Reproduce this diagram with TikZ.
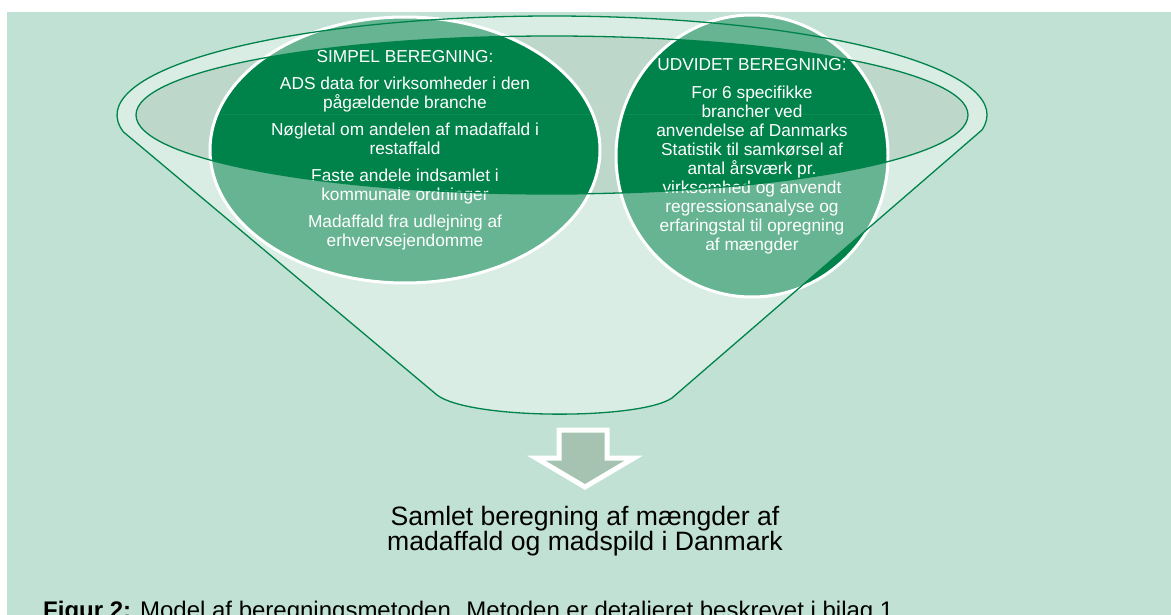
\documentclass[tikz,border=0pt]{standalone}
\usepackage{fontspec}
\setmainfont{Liberation Sans}
\usetikzlibrary{calc}
\definecolor{baggrund}{RGB}{192,225,211}
\definecolor{mund}{RGB}{189,216,203}
\definecolor{moerkgroen}{RGB}{0,131,74}
\definecolor{pilgraa}{RGB}{166,195,177}
\tikzstyle{kant} = [draw=moerkgroen, line width=1.3pt]
\tikzstyle{felt} = [fill=moerkgroen, draw=white, line width=3pt]
\tikzstyle{felttekst} = [text=white, align=center, inner sep=0pt,
font=\fontsize{17.3}{19}\selectfont]
\tikzstyle{tragtlys} = [fill=white, fill opacity=0.4, even odd rule]
\tikzstyle{blokpil} = [fill=pilgraa, draw=white, line width=5pt, miter limit=10]

\begin{document}
\begin{tikzpicture}[x=1pt, y=-1pt]
\useasboundingbox (0,0) rectangle (1171,615);
\fill[baggrund] (7,12) rectangle (1171,615);

% tragtens aabning
\coordinate (midte) at (552,115);
\fill[mund] (midte) ellipse [x radius=416, y radius=79];

% simpel beregning
\draw[felt] (405,150) ellipse [x radius=195, y radius=133];
\node[felttekst] (simpel) at (405,150) {SIMPEL BEREGNING:\\[8pt]
  ADS data for virksomheder i den\\ pågældende branche\\[8pt]
  Nøgletal om andelen af madaffald i\\ restaffald\\[8pt]
  Faste andele indsamlet i\\ kommunale ordninger\\[8pt]
  Madaffald fra udlejning af\\ erhvervsejendomme};

% udvidet beregning, til hoejre
\draw[felt] (752,156) ellipse [x radius=136, y radius=141];
\node[felttekst] (udvidet) at (752,156) {UDVIDET BEREGNING:\\[9pt]
  For 6 specifikke\\ brancher ved\\ anvendelse af Danmarks\\
  Statistik til samkørsel af\\ antal årsværk pr.\\ virksomhed og anvendt\\
  regressionsanalyse og\\ erfaringstal til opregning\\ af mængder};

% tragten lagt over felterne
\def\tragtsti{($(midte)+(8.7:435 and 99)$) coordinate (kantH)
  arc[start angle=8.7, end angle=-189.8, x radius=435, y radius=99] coordinate (kantV)
  -- (437,395) coordinate (bundV) .. controls (470,420) and (640,420) .. (672,398) coordinate (bundH)
  -- cycle}
\fill[tragtlys] \tragtsti (midte) ellipse [x radius=416, y radius=79];
% felternes top over kanten
\begin{scope}
  \clip (405,150) ellipse [x radius=195, y radius=133] (752,156) ellipse [x radius=136, y radius=141];
  \clip (0,0) rectangle (1171,115);
  \fill[tragtlys] (0,0) rectangle (1171,115) (midte) ellipse [x radius=435, y radius=99];
\end{scope}
\draw[kant] \tragtsti;
\draw[kant] (midte) ellipse [x radius=416, y radius=79];

% pil ned mod resultatet
\draw[blokpil] (559,430) -- (607,430) -- (607,458) -- (634,458) -- (585,487)
  -- (536,458) -- (559,458) -- cycle;

\node[align=center, inner sep=0pt, font=\fontsize{26.6}{25}\selectfont] (samlet) at (585,531)
  {Samlet beregning af mængder af\\madaffald og madspild i Danmark};

\node[anchor=base west, inner sep=0pt, font=\fontsize{24}{28}\selectfont] (figur) at (43,618)
  {\textbf{Figur 2:} Model af beregningsmetoden. Metoden er detaljeret beskrevet i bilag 1.};
\end{tikzpicture}
\end{document}
